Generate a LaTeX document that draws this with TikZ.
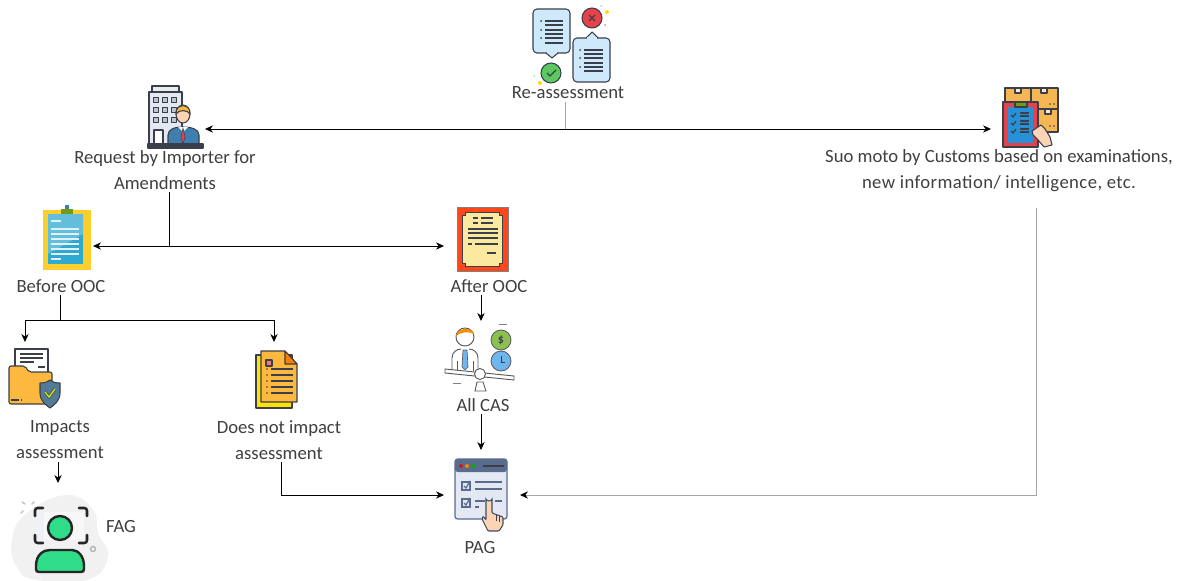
\documentclass[tikz,border=0pt]{standalone}
\usepackage{fontspec}
\setmainfont{Carlito}
\usetikzlibrary{arrows.meta}
\definecolor{textcol}{HTML}{3F3F3F}
\definecolor{ink}{HTML}{3A3F4A}
\definecolor{bubble}{HTML}{CDE9FB}
\definecolor{okgreen}{HTML}{5CC860}
\definecolor{badred}{HTML}{E8414A}
\definecolor{folderyel}{HTML}{FDB93F}
\definecolor{skin}{HTML}{FBD3B5}
\definecolor{suit}{HTML}{3F7FB0}
\definecolor{slate}{HTML}{5A6C8E}
\definecolor{pale}{HTML}{E4E8F3}
\definecolor{tan}{HTML}{F4B754}
\definecolor{mint}{HTML}{2FDD88}
\definecolor{teal}{HTML}{2FA9CF}
\definecolor{coin}{HTML}{8CC152}
\definecolor{clockblue}{HTML}{6FB5EE}
\definecolor{parchment}{HTML}{FCE9A0}
\tikzset{
  lbl/.style={text=textcol,align=center,inner xsep=0pt,inner ysep=2pt,font=\fontsize{14}{19.5}\selectfont},
  iconbox/.style 2 args={inner sep=0pt,outer sep=0pt,minimum width=#1*.75pt,minimum height=#2*.75pt},
  ink line/.style={draw=ink,line width=.8pt,line join=round},
  conn/.style={black,line width=.6pt},
  softconn/.style={draw=gray!70,line width=.7pt},
  softarrow/.style={-{Stealth[length=6pt,width=5.5pt,black]}},
  reassess pic/.pic={
    \draw[ink line,fill=bubble,rounded corners=3pt] (-38,-36) rectangle (-1,8);
    \draw[ink line,fill=bubble,line join=miter] (-25,8) -- (-19,13) -- (-13,8);
    \fill[bubble] (-24,6) rectangle (-14,8.2);
    \draw[ink line,fill=bubble,rounded corners=3pt] (2,-7) rectangle (39,37);
    \draw[ink line,fill=bubble] (15,-7) -- (21,-13) -- (27,-7);
    \fill[bubble] (16,-8.2) rectangle (26,-5.5);
    \foreach \y in {-24,-15,-7} \fill[ink] (-30,\y) circle (1);
    \foreach \y in {-24,-20,-15,-11,-7,-2} \draw[ink line] (-26,\y) -- (-8,\y);
    \foreach \y in {5,13,22} \fill[ink] (9,\y) circle (1);
    \foreach \y in {5,9,13,18,22,26} \draw[ink line] (13,\y) -- (32,\y);
    \draw[ink line,fill=okgreen] (-20,28) circle (10);
    \draw[ink,line width=.9pt] (-24,28) -- (-21,31) -- (-15,25);
    \draw[ink line,fill=badred] (21,-27) circle (10);
    \draw[ink,line width=.9pt] (18,-30) -- (24,-24) (24,-30) -- (18,-24);
    \fill[yellow!80!orange] (36,-33) circle (2);
    \fill[cyan!40] (30,-39) circle (1);
    \fill[red!50] (34,-20) circle (1);
    \fill[green!50] (-37,31) circle (1);
    \fill[yellow!80!orange] (-31,38) circle (2);
  },
  importer pic/.pic={
    \draw[ink line,fill=bubble!60!gray!30] (-23,-31) rectangle (4,-25);
    \draw[ink line,fill=pale] (-26,-25) rectangle (7,27);
    \foreach \x in {-19,-10,-1} \foreach \y in {-17,-7,3}
      \draw[ink line,fill=slate!40] (\x-2.5,\y-2.5) rectangle (\x+2.5,\y+2.5);
    \draw[ink line,fill=white] (-21,13) rectangle (-12,27);
    \draw[ink line,fill=suit] (-7,27) -- (-7,18) .. controls (-7,12) and (0,10) .. (8,10) .. controls (16,10) and (24,12) .. (24,18) -- (24,27) -- cycle;
    \fill[white] (3,10) -- (13,10) -- (8,15) -- cycle;
    \draw[ink,fill=badred,line width=.4pt] (8,11) -- (10,20) -- (8,27) -- (6,20) -- cycle;
    \draw[ink line,fill=skin] (8,-3) ellipse (7 and 9);
    \draw[ink line,fill=folderyel] (1,-3) .. controls (0,-14) and (16,-14) .. (15,-3) .. controls (13,-7) and (4,-8) .. (1,-3) -- cycle;
    \draw[ink line,fill=ink] (-27,27) rectangle (28,31);
  },
  clipboard pic/.pic={
    \fill[folderyel!70!yellow] (-24,-28) rectangle (24,32);
    \fill[teal] (-19,-24) rectangle (16,26);
    \fill[teal!75!white] (-19,-24) -- (16,-24) -- (16,-4) -- (-19,16) -- cycle;
    \fill[olive!60!green] (-6,-29) rectangle (6,-24);
    \fill[suit] (-2,-33) rectangle (2,-29);
    \foreach \y in {-17} \draw[white!85!teal,line width=.8pt] (-16,\y) -- (-6,\y);
    \foreach \y in {-9,-4,1,6,11,16} \draw[white!85!teal,line width=.8pt] (-16,\y) -- (12,\y);
    \draw[white!85!teal,line width=.8pt] (-16,21) -- (-6,21);
  },
  certificate pic/.pic={
    \draw[draw=gray,fill=red!60!orange!90,line width=.6pt] (-25,-32) rectangle (26,32);
    \draw[ink,fill=parchment,line width=.5pt] (-16.5,-27) -- (17,-27) -- (17,-24) -- (20,-24) -- (20,24) -- (17,24) -- (17,27) -- (-16.5,27) -- (-16.5,24) -- (-19.5,24) -- (-19.5,-24) -- (-16.5,-24) -- cycle;
    \foreach \y in {-21,-16} \draw[ink,line width=.9pt] (-9,\y) -- (-4,\y) (-1,\y) -- (11,\y);
    \foreach \y in {-10,-6,-1} \draw[ink,line width=.9pt] (-14,\y) -- (16,\y);
    \draw[ink,line width=.9pt] (-14,5) -- (-10,5) (-7,5) -- (16,5);
    \draw[ink,line width=.9pt] (5,14) -- (14,14);
  },
  cas pic/.pic={
    \draw[gray!70!black,line width=.7pt] (-29,14) -- (-29,1) .. controls (-29,-5) and (-24,-8) .. (-20,-8) (-12,-8) .. controls (-8,-8) and (-3,-5) .. (-3,1) -- (-3,14);
    \draw[gray!70!black,line width=.7pt] (-24,4) -- (-24,14) (-8,4) -- (-8,14);
    \draw[gray!70!black,fill=clockblue,line width=.5pt] (-18,-7) -- (-14,-7) -- (-13,10) -- (-16,13) -- (-19,10) -- cycle;
    \draw[gray!70!black,fill=white,line width=.7pt] (-16,-20) circle (9);
    \fill[orange!90!yellow] (-25,-21) .. controls (-24,-30) and (-8,-30) .. (-7,-23) .. controls (-14,-26) and (-20,-25) .. (-25,-21) -- cycle;
    \draw[gray!70!black,fill=coin,line width=.6pt] (20,-17) circle (10);
    \node[text=ink,font=\fontsize{9}{9}\selectfont\bfseries] (coinmark) at (20,-17) {\$};
    \draw[gray!70!black,fill=clockblue,line width=.6pt] (20,4) circle (10);
    \draw[ink,line width=.6pt] (20,-1) -- (20,5) -- (24,5);
    \draw[gray!70!black,fill=white,line width=.7pt] (-36,12) -- (33,19) -- (33,23) -- (-36,16) -- cycle;
    \draw[gray!70!black,fill=white,line width=.7pt] (-6,34) -- (-4,25) -- (2,25) -- (5,34) -- cycle;
    \draw[gray!70!black,fill=white,line width=.7pt] (-1,17) circle (5.5);
    \draw[gray,line width=.6pt] (18,-33) -- (26,-33) (-28,26) -- (-20,26);
  },
  pag pic/.pic={
    \draw[draw=slate,fill=pale,line width=.9pt,rounded corners=2pt] (-27,-36) rectangle (25,24);
    \fill[slate,rounded corners=2pt] (-27,-36) rectangle (25,-23);
    \fill[red!80!black!90] (-21,-29) circle (2);
    \fill[orange] (-15,-29) circle (2);
    \fill[green!70!black] (-9,-29) circle (2);
    \draw[ink,line width=.8pt] (1,-29) -- (22,-29);
    \foreach \y in {-9,8} {
      \draw[slate,line width=.9pt] (-20,\y-4) rectangle (-12,\y+4);
      \draw[slate,line width=.9pt] (-18,\y) -- (-16,\y+2) -- (-12,\y-5);
    }
    \foreach \y in {-13,-6} \draw[slate,line width=.9pt] (-7,\y) -- (20,\y);
    \draw[slate,line width=.9pt] (-7,6) -- (3,6) (13,6) -- (20,6) (-7,12) -- (-3,12);
    \draw[draw=slate!70!black,fill=skin,line width=.8pt,rounded corners=.8pt] (4,3) arc (180:0:3) -- (10,18) -- (21,22) -- (21,30) -- (17,36) -- (6,36) -- (0,24) -- (1,21) -- (4,25) -- cycle;
    \draw[ink,line width=.5pt] (14,19.5) -- (14,26) (17.5,21) -- (17.5,27);
  },
  suo pic/.pic={
    \draw[ink line,fill=tan] (-25,-29) rectangle (1,-9);
    \draw[ink line,fill=tan] (1,-29) rectangle (28,-8);
    \draw[ink line,fill=tan] (8,-8) rectangle (28,15);
    \draw[ink line,fill=white!70!tan] (-15,-29) rectangle (-9,-24);
    \draw[ink line,fill=white!70!tan] (11,-29) rectangle (17,-24);
    \draw[ink line,fill=white!70!tan] (15,-8) rectangle (21,-3);
    \fill[ink] (20,-13) circle (.8) (24,-13) circle (.8) (20,9) circle (.8) (24,9) circle (.8);
    \draw[ink line,fill=badred] (-27,-15) rectangle (8,30);
    \fill[teal!85!blue] (-22,-10) rectangle (3,26);
    \draw[ink line,fill=olive!60!green] (-15,-15) rectangle (-3,-10);
    \foreach \y in {-2,6,14} {
      \draw[ink,line width=.9pt] (-19,\y) -- (-17,\y+2) -- (-14,\y-2);
      \draw[ink,line width=.9pt] (-10,\y-2) -- (-1,\y-2) (-10,\y+1) -- (-1,\y+1);
    }
    \draw[ink line,fill=skin] (2,14) -- (11,8) -- (15,12) -- (20,20) -- (22,28) -- (14,30) -- (8,23) -- (3,18) -- cycle;
  },
  folder pic/.pic={
    \draw[ink line,fill=white] (-20,-29) rectangle (13,-3);
    \foreach \y in {-24,-20} \draw[ink,line width=.8pt] (-15,\y) -- (8,\y);
    \draw[ink,line width=.8pt] (-15,-16) -- (-1,-16) (3,-11) -- (10,-11);
    \draw[ink line,fill=folderyel,rounded corners=1.5pt] (-26,26) -- (-26,-12) -- (-10,-12) -- (-6,-6) -- (17,-6) -- (17,26) -- cycle;
    \draw[ink,line width=.8pt] (-24,22) -- (-16,22) (-14,22) -- (-13,22);
    \draw[ink line,fill=slate!90!cyan] (5,5) .. controls (10,5) and (13,4) .. (15,2) .. controls (17,4) and (20,5) .. (25,5) -- (25,15) .. controls (25,23) and (19,27) .. (15,30) .. controls (11,27) and (5,23) .. (5,15) -- cycle;
    \draw[ink,line width=2pt] (10,14) -- (14,19) -- (20,11);
    \draw[yellow!80!green,line width=1.1pt] (10,14) -- (14,19) -- (20,11);
  },
  paper pic/.pic={
    \draw[ink line,fill=yellow!85!orange] (-20,-24) rectangle (16,29);
    \draw[ink line,fill=folderyel] (-15,-28) -- (9,-28) -- (21,-15) -- (21,23) -- (-15,23) -- cycle;
    \draw[ink line,fill=orange] (9,-28) -- (9,-15) -- (21,-15) -- cycle;
    \draw[ink line,fill=badred!70] (-10,-19) rectangle (-4,-13);
    \foreach \y in {-10,-4,2,8,14} {
      \fill[ink] (-9,\y) circle (.9);
      \draw[ink,line width=.8pt] (-5,\y) -- (17,\y);
    }
  },
  fag pic/.pic={
    \fill[gray!11] plot[smooth cycle,tension=.8] coordinates {(-46,8) (-31,-19) (9,-37) (35,-22) (40,1) (50,25) (29,48) (-21,48) (-41,35)};
    \fill[pale!60!white] (-20,-20) rectangle (-14,8);
    \fill[gray!6] (-14,-20) rectangle (26,8);
    \draw[gray!45,line width=1.2pt,line cap=round] (-36,-30) -- (-33,-28) (-24,-30) -- (-26,-28) (-37,-19) -- (-35,-21);
    \draw[black!85,line width=1.9pt,rounded corners=2pt,line cap=round] (-23,-16) -- (-23,-24) -- (-15,-24) (21,-24) -- (29,-24) -- (29,-16) (29,3) -- (29,11) -- (21,11) (-15,11) -- (-23,11) -- (-23,3);
    \draw[black!85,fill=mint,line width=1.8pt] (2,-4) circle (12);
    \draw[black!85,fill=mint,line width=1.8pt] (-22,37) -- (-22,34) .. controls (-22,22) and (-14,18) .. (-8,18) -- (14,18) .. controls (20,18) and (26,24) .. (26,34) -- (26,37) .. controls (26,39) and (25,40) .. (23,40) -- (-19,40) .. controls (-21,40) and (-22,39) .. (-22,37) -- cycle;
    \draw[gray!60,line width=1pt] (35,17) circle (2.5);
  },
}
\begin{document}
\begin{tikzpicture}[x=.75pt,y=-.75pt,>={Stealth[length=6pt,width=5.5pt]}]
\useasboundingbox (0,0) rectangle (1181,581);
% icons
\node[iconbox={76}{90}] (reassessicon) at (571,45) {};
\node[iconbox={60}{64}] (importericon) at (175,117) {};
\node[iconbox={78}{64}] (suoicon) at (1030,117) {};
\node[iconbox={52}{70}] (clipicon) at (67,238) {};
\node[iconbox={76}{70}] (certicon) at (482,239) {};
\node[iconbox={76}{72}] (casicon) at (481,357) {};
\node[iconbox={60}{72}] (foldericon) at (35,378) {};
\node[iconbox={50}{74}] (papericon) at (276,379) {};
\node[iconbox={96}{98}] (fagicon) at (58,532) {};
\node[iconbox={76}{90}] (pagicon) at (482,495) {};
\pic at (reassessicon) {reassess pic};
\pic at (importericon) {importer pic};
\pic at (suoicon) {suo pic};
\pic at (clipicon) {clipboard pic};
\pic at (certicon) {certificate pic};
\pic at (casicon) {cas pic};
\pic at (foldericon) {folder pic};
\pic at (papericon) {paper pic};
\pic at (fagicon) {fag pic};
\pic at (pagicon) {pag pic};
% labels
\node[lbl] (reassess) at (568,93) {Re-assessment};
\node[lbl] (importer) at (165,170) {Request by Importer for\\Amendments};
\node[lbl] (suo) at (999,171) {Suo moto by Customs based on examinations,\\{\addfontfeatures{LetterSpace=2.3}new information/ intelligence, etc.}};
\node[lbl] (before) at (61,286) {Before OOC};
\node[lbl] (after) at (489,286) {After OOC};
\node[lbl] (cas) at (483,405) {All CAS};
\node[lbl] (impacts) at (60,440) {Impacts\\assessment};
\node[lbl] (noimpact) at (279,440) {Does not impact\\assessment};
\node[lbl] (fag) at (121,527) {FAG};
\node[lbl] (pag) at (480,548) {PAG};
% junctions
\coordinate (topjoin) at (565,129);
\coordinate (ooc) at (169,246);
\coordinate (beforejoin) at (60,320);
\coordinate (beforeleft) at (25,320);
\coordinate (beforeright) at (274,320);
\coordinate (noimpactbend) at (281,495);
\coordinate (suostart) at (1036,208);
\coordinate (suobend) at (1036,495);
% connectors
\draw[softconn] (topjoin |- reassess.south) -- (topjoin);
\draw[<->,conn] (importericon.east |- topjoin) -- (suoicon.west |- topjoin);
\draw[conn] (ooc |- importer.south) -- (ooc);
\draw[<->,conn] (clipicon.east |- ooc) -- (certicon.west |- ooc);
\draw[conn] (beforejoin |- before.south) -- (beforejoin);
\draw[conn] (beforeleft) -- (beforeright);
\draw[->,conn] (beforeleft) -- (beforeleft |- foldericon.north);
\draw[->,conn] (beforeright) -- (beforeright |- papericon.north);
\draw[->,conn] (casicon.north |- after.south) -- (casicon.north);
\draw[->,conn] (casicon.north |- cas.south) -- (casicon.north |- pagicon.north);
\draw[->,conn] (impacts.south -| fagicon.north) -- (fagicon.north);
\draw[->,conn] (noimpactbend |- noimpact.south) -- (noimpactbend) -- (pagicon.west);
\draw[softconn,softarrow] (suostart) -- (suobend) -- (pagicon.east);
\end{tikzpicture}
\end{document}
